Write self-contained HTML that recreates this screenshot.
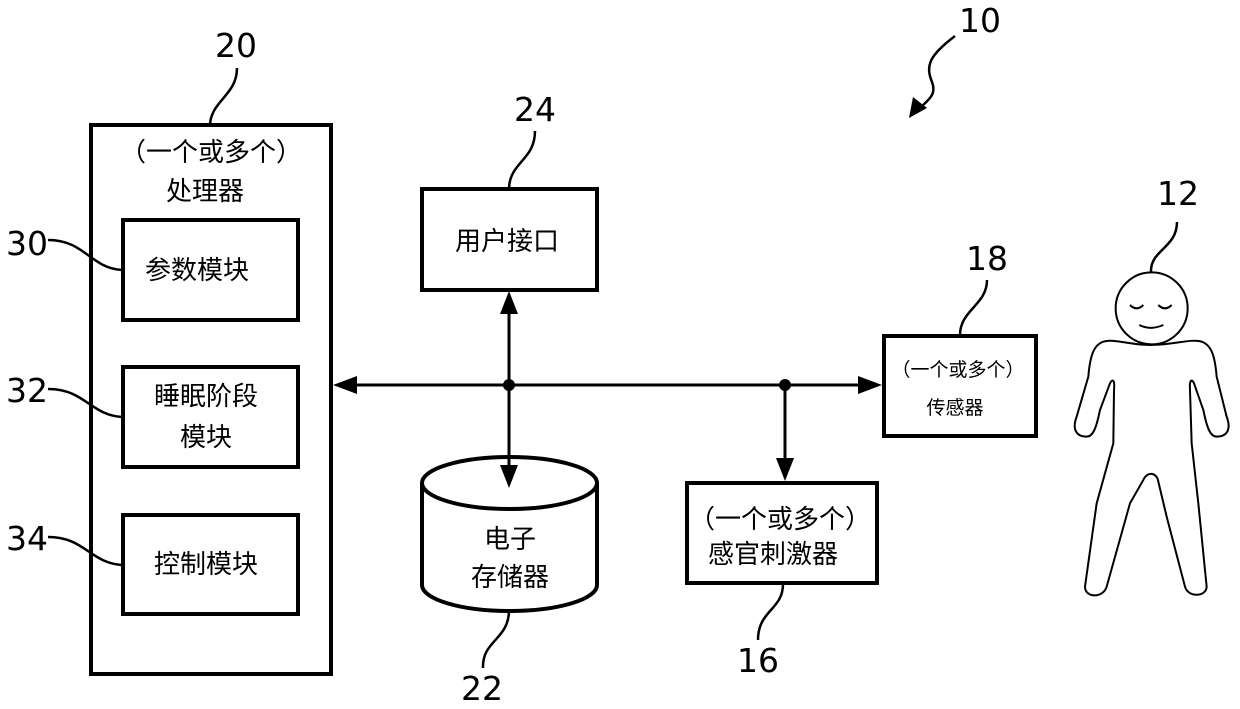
<!DOCTYPE html>
<html><head><meta charset="utf-8"><style>
html,body{margin:0;padding:0;background:#fff;}
svg{display:block;}
.n{font-family:"DejaVu Sans","Liberation Sans",sans-serif;font-size:33px;fill:#000;}
.c{font-family:"Noto Sans CJK SC",sans-serif;font-size:26px;fill:#000;}
.s{font-family:"Noto Sans CJK SC",sans-serif;font-size:19px;fill:#000;}
</style></head><body>
<svg width="1240" height="709" viewBox="0 0 1240 709" xmlns="http://www.w3.org/2000/svg">
<g fill="none" stroke="#000">
<rect x="91" y="125" width="240" height="549" stroke-width="4"/>
<rect x="123" y="220" width="175" height="100" stroke-width="4"/>
<rect x="123" y="367" width="175" height="100" stroke-width="4"/>
<rect x="123" y="515" width="175" height="99" stroke-width="4"/>
<rect x="422" y="189" width="175" height="101" stroke-width="4"/>
<rect x="884" y="336" width="152" height="100" stroke-width="4"/>
<rect x="687" y="483" width="190" height="100" stroke-width="4"/>
<path d="M422 483 L422 585 A87.5 26 0 0 0 597 585 L597 483" stroke-width="4"/>
<ellipse cx="509.5" cy="483" rx="87.5" ry="26" stroke-width="4"/>
<line x1="345" y1="385" x2="868" y2="385" stroke-width="3"/>
<line x1="509" y1="303" x2="509" y2="468" stroke-width="3"/>
<line x1="785" y1="385" x2="785" y2="470" stroke-width="3"/>
<g stroke-width="2.5">
<path d="M237 68 C237 95 212 100 210 124"/>
<path d="M535 131 C535 160 510 162 509 188"/>
<path d="M987 280 C987 305 960 310 960 335"/>
<path d="M1177 222 C1177 248 1150 250 1151 272"/>
<path d="M509 610 C509 640 482 640 483 668"/>
<path d="M783 584 C783 610 758 610 758 640"/>
<path d="M48 240 C85 240 90 268 122 270"/>
<path d="M48 389 C85 389 90 415 122 417"/>
<path d="M48 537 C85 537 90 563 122 565"/>
<path d="M955 36 C930 55 925 65 932 82 C937 95 928 100 920 108"/>
</g>
</g>
<g fill="#000">
<polygon points="333,385 357,376 357,394"/>
<polygon points="882,385 858,376 858,394"/>
<polygon points="509,291 500,314 518,314"/>
<polygon points="509,488 500,465 518,465"/>
<polygon points="785,481 776,458 794,458"/>
<polygon points="909,118 913,97 927,108"/>
<circle cx="509" cy="385" r="6"/>
<circle cx="785" cy="385" r="6"/>
</g>
<g transform="translate(1070,170) scale(0.3333)" fill="none" stroke="#000" stroke-width="6">
<circle cx="245" cy="415" r="108"/>
<path d="M180 405 Q200 425 220 405"/>
<path d="M265 405 Q285 425 305 405"/>
<path d="M208 465 Q240 482 280 465"/>
<path d="M240 525 C180 525 130 505 100 515 C70 525 60 560 55 620 L20 740 C5 780 20 800 50 800 C70 800 80 770 90 720 L120 640 C128 625 135 630 132 660 L130 820 L80 1000 L45 1250 C45 1285 100 1285 110 1250 L180 1000 L220 930 C230 905 260 905 265 935 L290 1040 L345 1250 C355 1285 410 1280 410 1250 L385 1000 L365 820 L360 660 C358 630 365 625 372 640 L400 720 C410 770 420 800 440 800 C470 800 485 780 470 740 L440 620 C435 560 425 525 395 515 C365 505 310 525 240 525 Z"/>
</g>
<text class="n" x="236" y="57" text-anchor="middle">20</text>
<text class="n" x="980" y="32" text-anchor="middle">10</text>
<text class="n" x="535" y="121" text-anchor="middle">24</text>
<text class="n" x="987" y="270" text-anchor="middle">18</text>
<text class="n" x="1178" y="205" text-anchor="middle">12</text>
<text class="n" x="27" y="255" text-anchor="middle">30</text>
<text class="n" x="27" y="402" text-anchor="middle">32</text>
<text class="n" x="27" y="550" text-anchor="middle">34</text>
<text class="n" x="482" y="700" text-anchor="middle">22</text>
<text class="n" x="758" y="672" text-anchor="middle">16</text>
<text class="c" x="211" y="161" text-anchor="middle">（一个或多个）</text>
<text class="c" x="205" y="200" text-anchor="middle">处理器</text>
<text class="c" x="197" y="279" text-anchor="middle">参数模块</text>
<text class="c" x="206" y="405" text-anchor="middle">睡眠阶段</text>
<text class="c" x="206" y="446" text-anchor="middle">模块</text>
<text class="c" x="206" y="573" text-anchor="middle">控制模块</text>
<text class="c" x="507" y="250" text-anchor="middle">用户接口</text>
<text class="s" x="958" y="376" text-anchor="middle">（一个或多个）</text>
<text class="s" x="955" y="414" text-anchor="middle">传感器</text>
<text class="c" x="780" y="528" text-anchor="middle">（一个或多个）</text>
<text class="c" x="773" y="563" text-anchor="middle">感官刺激器</text>
<text class="c" x="510" y="548" text-anchor="middle">电子</text>
<text class="c" x="510" y="586" text-anchor="middle">存储器</text>
</svg>
</body></html>
